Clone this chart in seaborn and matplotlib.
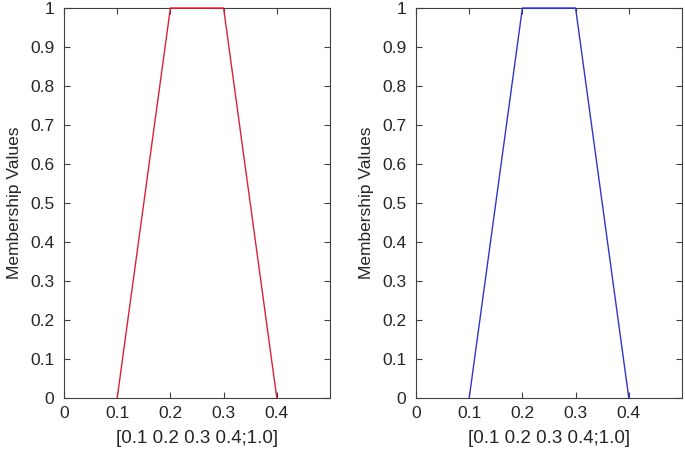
import matplotlib.pyplot as plt
import seaborn as sns
import pandas as pd

# trapezoidal membership function [a b c d; h]
x_points = [0.1, 0.2, 0.3, 0.4]
membership = [0.0, 1.0, 1.0, 0.0]
x_label = '[0.1 0.2 0.3 0.4;1.0]'
line_colors = ['#d9203c', '#3434c8']

sns.set_theme(style='white')
plt.rcParams['font.family'] = ['Liberation Sans', 'DejaVu Sans']

df = pd.DataFrame({'x': x_points, 'mu': membership})

fig = plt.figure(figsize=(6.85, 4.51), dpi=100)
axes = [fig.add_axes([64 / 685, 1 - 398 / 451, 266 / 685, 390 / 451]),
        fig.add_axes([416 / 685, 1 - 398 / 451, 266 / 685, 390 / 451])]

for ax, color in zip(axes, line_colors):
    sns.lineplot(x='x', y='mu', data=df, ax=ax, color=color, linewidth=1.0,
                 clip_on=False, zorder=5)
    ax.set_xlim(0, 0.5)
    ax.set_ylim(0, 1)
    ax.set_xticks([0, 0.1, 0.2, 0.3, 0.4])
    ax.set_xticklabels(['0', '0.1', '0.2', '0.3', '0.4'])
    ax.set_yticks([i / 10 for i in range(11)])
    ax.set_yticklabels(['0'] + [f'{i / 10:.1f}' for i in range(1, 10)] + ['1'])
    ax.tick_params(direction='in', length=4, width=0.8, color='#404040',
                   labelsize=12.5, labelcolor='#262626', top=True, right=True,
                   bottom=True, left=True)
    ax.tick_params(axis='x', pad=6)
    ax.tick_params(axis='y', pad=7)
    for s in ax.spines.values():
        s.set_color('#404040')
        s.set_linewidth(0.8)
    ax.set_xlabel(x_label, fontsize=13.5, color='#262626', labelpad=6)
    ax.set_ylabel('Membership Values', fontsize=12.5, color='#262626', labelpad=6)

plt.savefig('out.png', dpi=100)
